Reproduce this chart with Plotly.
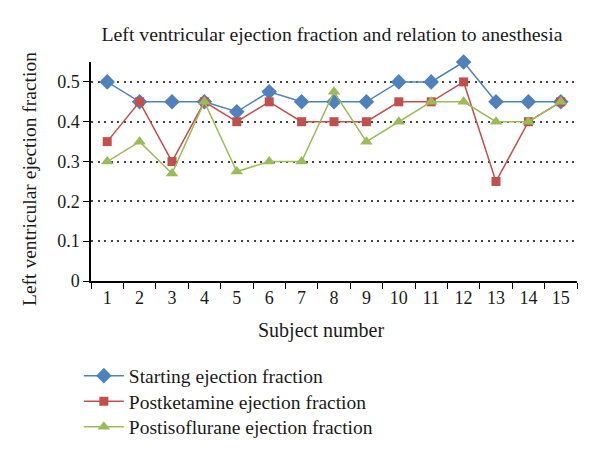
import plotly.graph_objects as go

subjects = [str(i) for i in range(1, 16)]
starting = [0.5, 0.45, 0.45, 0.45, 0.425, 0.475, 0.45, 0.45, 0.45, 0.5, 0.5, 0.55, 0.45, 0.45, 0.45]
postketamine = [0.35, 0.45, 0.3, 0.45, 0.4, 0.45, 0.4, 0.4, 0.4, 0.45, 0.45, 0.5, 0.25, 0.4, 0.45]
postisoflurane = [0.3, 0.35, 0.27, 0.45, 0.275, 0.3, 0.3, 0.475, 0.35, 0.4, 0.45, 0.45, 0.4, 0.4, 0.45]
y_ticks = [0, 0.1, 0.2, 0.3, 0.4, 0.5]
y_tick_text = ["0", "0.1", "0.2", "0.3", "0.4", "0.5"]

FONT = "Liberation Serif"
TXT = "#1a1a1a"
series = [
    ("Starting ejection fraction", starting, "#4F81BD", "diamond", 12, "legend"),
    ("Postketamine ejection fraction", postketamine, "#C0504D", "square", 9, "legend2"),
    ("Postisoflurane ejection fraction", postisoflurane, "#9BBB59", "triangle-up", 11, "legend3"),
]

fig = go.Figure()
for name, vals, color, sym, size, leg in series:
    fig.add_trace(go.Scatter(
        x=subjects, y=vals, name=name, mode="lines+markers",
        line=dict(color=color, width=1.5),
        marker=dict(symbol=sym, size=size, color=color),
        cliponaxis=False, legend=leg,
    ))

PLOT_BOTTOM, PLOT_H = 281, 219
def leg(row_y):
    return dict(x=-0.025, y=(PLOT_BOTTOM - row_y) / PLOT_H, xanchor="left", yanchor="middle",
                font=dict(family=FONT, size=19.5, color=TXT),
                itemwidth=40, bgcolor="rgba(0,0,0,0)")

fig.update_layout(
    width=600, height=461,
    margin=dict(l=91, r=23, t=62, b=180, autoexpand=False),
    paper_bgcolor="white", plot_bgcolor="white",
    font=dict(family=FONT, size=18, color=TXT),
    title=dict(text="Left ventricular ejection fraction and relation to anesthesia",
               x=332 / 600, xanchor="center", y=0.926, yanchor="middle",
               font=dict(family=FONT, size=19.7, color=TXT)),
    showlegend=True,
    legend=leg(376), legend2=leg(401.5), legend3=leg(427),
    xaxis=dict(
        type="category", range=[-0.5, 14.5], tickson="boundaries",
        ticks="outside", ticklen=6,
        tickcolor="#000", showline=True, linecolor="#000", linewidth=1.5,
        showgrid=False, zeroline=False,
        tickfont=dict(family=FONT, size=18, color=TXT),
    ),
    yaxis=dict(
        range=[0, 0.55], tickvals=y_ticks, ticktext=y_tick_text,
        ticks="outside", ticklen=6, tickcolor="#000",
        showline=True, linecolor="#000", linewidth=1.5,
        showgrid=True, gridcolor="#444444", griddash="2px,4.5px", gridwidth=1.5,
        zeroline=False,
        tickfont=dict(family=FONT, size=18, color=TXT),
    ),
    annotations=[
        dict(text="Left ventricular ejection fraction", textangle=-90,
             xref="paper", yref="paper", x=-0.1255, y=0.466,
             xanchor="center", yanchor="middle",
             showarrow=False, font=dict(family=FONT, size=19.5, color=TXT)),
        dict(text="Subject number",
             xref="paper", yref="paper", x=0.473, y=-0.224,
             xanchor="center", yanchor="middle",
             showarrow=False, font=dict(family=FONT, size=20, color=TXT)),
    ],
)

fig.write_html("out.html")
